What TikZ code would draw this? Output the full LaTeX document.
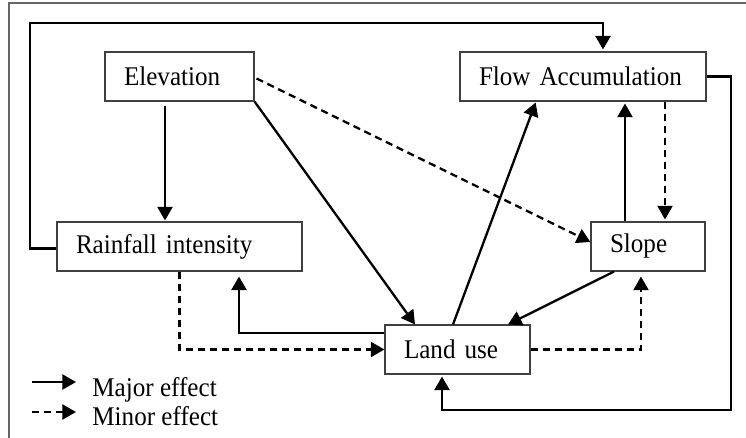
\documentclass[tikz,border=0pt]{standalone}
\usepackage{fontspec}
\setmainfont{Liberation Serif}[FakeStretch=0.93]
\usetikzlibrary{arrows.meta,calc}
\begin{document}
\begin{tikzpicture}[x=0.5pt,y=-0.5pt,
  box/.style={draw=black!75, line width=0.55pt, minimum height=24.5pt, inner xsep=9.5pt, inner ysep=0pt, align=left, font=\fontsize{13.5}{16}\selectfont},
  tip/.style={-{Triangle[length=6.8pt,width=7.5pt]}},
  major/.style={line width=1.15pt, tip},
  minor/.style={line width=1.15pt, dash pattern=on 3.6pt off 2.4pt, tip},
  loopline/.style={line width=1.4pt, tip},
  lbl/.style={font=\fontsize{13.5}{16}\selectfont, anchor=base west, inner sep=0pt}]
\useasboundingbox (0,0) rectangle (746,438);
\draw[black!60, line width=0.6pt] (9,438) -- (9,3) -- (746,3);

\node[box, text width=55.5pt] (elev) at (179.5,76.5) {Elevation};
\node[box, text width=104pt] (flow) at (583,76.5) {Flow Accumulation};
\node[box, text width=103.5pt] (rain) at (179.5,246.5) {Rainfall intensity};
\node[box, text width=38pt] (slope) at (648,246.5) {Slope};
\node[box, text width=53.5pt] (land) at (457.5,349.5) {Land use};

\coordinate (c1) at (165,0);
\coordinate (c2) at (415,0);
\coordinate (c3) at (453,0);
\coordinate (c4) at (536,0);
\coordinate (c5) at (625,0);
\coordinate (c6) at (665,0);
\coordinate (c7a) at (614,0);
\coordinate (c7b) at (508,0);
\coordinate (c8) at (641,0);
\coordinate (c9) at (239,0);
\coordinate (c11) at (731,410);
\coordinate (c12) at (442,410);
\coordinate (c13) at (30,23);
\coordinate (c14) at (603,23);

% Elevation -> Rainfall
\draw[major, shorten >=0.5pt] ([yshift=-2pt]elev.south -| c1) -- (rain.north -| c1);
% Elevation -> Land use
\draw[major] (elev.south east) -- (land.north -| c2);
% Elevation -> Slope (minor)
\draw[minor] ([xshift=1pt,yshift=-1pt]elev.east) -- ([yshift=2.25pt]slope.west);
% Land use -> Flow
\draw[major, shorten >=0.5pt] (land.north -| c3) -- (flow.south -| c4);
% Slope -> Flow
\draw[major, shorten >=1pt] (slope.north -| c5) -- (flow.south -| c5);
% Flow -> Slope (minor)
\draw[minor, shorten >=1pt] (flow.south -| c6) -- (slope.north -| c6);
% Slope -> Land use
\draw[major] (slope.south -| c7a) -- (land.north -| c7b);
% Land use -> Slope (minor)
\draw[minor, shorten >=2.5pt] (land.east) -| (slope.south -| c8);
% Land use -> Rainfall
\draw[loopline, shorten >=2.5pt] ([yshift=8.25pt]land.west) -| (rain.south -| c9);
% Rainfall -> Land use (minor)
\draw[minor] (rain.south) |- (land.west);
% Flow -> Land use (loop)
\draw[loopline, shorten >=1pt] (flow.east) -| (c11) -- (c12) -- (land.south -| c12);
% Rainfall -> Flow (loop)
\draw[loopline, shorten >=1pt] ([yshift=-1pt]rain.west) -| (c13) -- (c14) -- (flow.north -| c14);

% Legend
\coordinate (m1) at (32,382);
\coordinate (m2) at (76,382);
\coordinate (n1) at (32,412);
\coordinate (n2) at (76,412);
\draw[major] (m1) -- (m2);
\draw[minor] (n1) -- (n2);
\node[lbl] (tmaj) at (92,397) {Major effect};
\node[lbl] (tmin) at (92,426) {Minor effect};
\end{tikzpicture}
\end{document}
